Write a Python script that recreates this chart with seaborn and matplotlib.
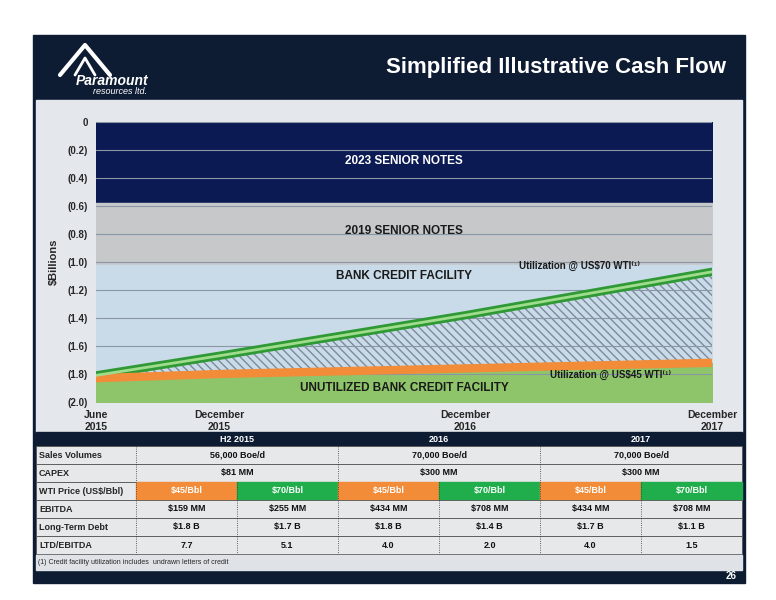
import numpy as np
import pandas as pd
import matplotlib
matplotlib.use("Agg")
import matplotlib.pyplot as plt
import seaborn as sns
from matplotlib.patches import Rectangle

# Chart data
MONTHS = [0, 6, 18, 30]
X_LABELS = ["June\n2015", "December\n2015", "December\n2016", "December\n2017"]
UTIL_70 = [-1.81, -1.67, -1.38, -1.07]
UTIL_45 = [-1.83, -1.80, -1.76, -1.72]
BANDS = [  # (top, bottom, colour, label, label y)
    (0.0, -0.57, "#0c1a54", "2023 SENIOR NOTES", -0.28),
    (-0.58, -1.02, "#c6c8ca", "2019 SENIOR NOTES", -0.78),
    (-1.02, -2.0, "#c9dbe8", "BANK CREDIT FACILITY", -1.1),
]

# Table data
PERIODS = ["H2 2015", "2016", "2017"]
SALES = ["56,000 Boe/d", "70,000 Boe/d", "70,000 Boe/d"]
CAPEX = ["$81 MM", "$300 MM", "$300 MM"]
WTI = ["$45/Bbl", "$70/Bbl"] * 3
EBITDA = ["$159 MM", "$255 MM", "$434 MM", "$708 MM", "$434 MM", "$708 MM"]
LTD = ["$1.8 B", "$1.7 B", "$1.8 B", "$1.4 B", "$1.7 B", "$1.1 B"]
LTD_EBITDA = ["7.7", "5.1", "4.0", "2.0", "4.0", "1.5"]

W, H = 776, 600
NAVY = "#0e1c33"
ORANGE = "#f28c38"
GREEN = "#1fae4b"

sns.set_style("white")
plt.rcParams["font.family"] = ["Liberation Sans", "DejaVu Sans"]

fig = plt.figure(figsize=(7.76, 6.0), dpi=100)
bg = fig.add_axes([0, 0, 1, 1])
bg.set_xlim(0, W)
bg.set_ylim(H, 0)
bg.axis("off")

# slide frame
bg.add_patch(Rectangle((33, 35), 712, 548, color=NAVY))
bg.add_patch(Rectangle((36, 100), 706, 332, color="#e4e8ec"))
bg.text(726, 68, "Simplified Illustrative Cash Flow", color="white", fontsize=16,
        fontweight="bold", ha="right", va="center")
bg.text(112, 81, "Paramount", color="white", fontsize=10, fontweight="bold",
        style="italic", ha="center", va="center")
bg.text(120, 92, "resources ltd.", color="white", fontsize=6.5, style="italic",
        ha="center", va="center")
bg.plot([60, 85, 110], [75, 45, 75], color="white", lw=3)
bg.plot([75, 85, 95], [75, 58, 75], color="white", lw=2)

# chart axes
ax = fig.add_axes([96 / W, 1 - 402 / H, 616 / W, 280 / H])
for top, bot, col, lab, ly in BANDS:
    ax.fill_between([0, 30], top, bot, color=col, zorder=0)
    ax.text(15, ly, lab, ha="center", va="center", fontsize=8.5, fontweight="bold",
            color="white" if col == "#0c1a54" else "#1a1a1a", zorder=5)
ax.fill_between(MONTHS, UTIL_45, -2.0, color="#8fc56a", zorder=1)
ax.fill_between(MONTHS, UTIL_45, UTIL_70, facecolor="none", edgecolor="#7d8a99",
                hatch="\\\\\\\\", lw=0, zorder=1)
ax.text(15, -1.9, "UNUTILIZED BANK CREDIT FACILITY", ha="center", va="center",
        fontsize=8.5, fontweight="bold", color="#1a1a1a", zorder=5)

df = pd.DataFrame({"month": MONTHS * 2, "value": UTIL_70 + UTIL_45,
                   "case": ["70"] * 4 + ["45"] * 4})
sns.lineplot(data=df, x="month", y="value", hue="case",
             palette={"70": "#2f9a35", "45": ORANGE}, linewidth=6, legend=False,
             ax=ax, zorder=4)
ax.plot(MONTHS, UTIL_70, color="#9fdc8c", lw=2, zorder=4)
ax.text(26.5, -1.065, "Utilization @ US$70 WTI\u207d\u00b9\u207e", ha="right", va="bottom",
        fontsize=7, fontweight="bold", color="#1a1a1a", zorder=5)
ax.text(28, -1.77, "Utilization @ US$45 WTI\u207d\u00b9\u207e", ha="right", va="top",
        fontsize=7, fontweight="bold", color="#1a1a1a", zorder=5)

ax.set_xlim(0, 30)
ax.set_ylim(-2.0, 0)
ax.set_yticks(np.arange(0, -2.01, -0.2))
ax.set_yticklabels(["0"] + [f"({abs(v):.1f})" for v in np.arange(-0.2, -2.01, -0.2)],
                   fontsize=7, fontweight="bold")
ax.grid(axis="y", color="#8a96a6", lw=0.8, zorder=2)
ax.set_axisbelow(False)
ax.set_xticks(MONTHS)
ax.set_xticklabels(X_LABELS, fontsize=7.5, fontweight="bold")
ax.set_xlabel("")
ax.set_ylabel("$Billions", fontsize=8, fontweight="bold", labelpad=6)
for s in ax.spines.values():
    s.set_visible(False)
ax.tick_params(length=0, pad=6)

# table
x0, x1 = 36, 742
label_w = 100
col_w = (x1 - x0 - label_w) / 6
y = 432
bg.add_patch(Rectangle((x0, y), x1 - x0, 14, color=NAVY))
for i, p in enumerate(PERIODS):
    bg.text(x0 + label_w + col_w * (2 * i + 1), y + 7, p, color="white", fontsize=6.5,
            fontweight="bold", ha="center", va="center")
y += 14
rows = [("Sales Volumes", SALES, False), ("CAPEX", CAPEX, False),
        ("WTI Price (US$/Bbl)", WTI, True), ("EBITDA", EBITDA, False),
        ("Long-Term Debt", LTD, False), ("LTD/EBITDA", LTD_EBITDA, False)]
rh = 18
for name, vals, coloured in rows:
    bg.add_patch(Rectangle((x0, y), x1 - x0, rh, facecolor="#e6e8ea",
                           edgecolor="#555555", lw=0.6))
    bg.text(x0 + 3, y + rh / 2, name, fontsize=6.5, fontweight="bold",
            va="center", ha="left")
    span = 6 // len(vals)
    for j, v in enumerate(vals):
        cx = x0 + label_w + col_w * span * j
        if coloured:
            fc = ORANGE if j % 2 == 0 else GREEN
            bg.add_patch(Rectangle((cx, y), col_w * span, rh, color=fc))
        bg.plot([cx, cx], [y, y + rh], color="#333333", lw=0.6, ls=":")
        bg.text(cx + col_w * span / 2, y + rh / 2, v, fontsize=6.5, fontweight="bold",
                ha="center", va="center", color="white" if coloured else "#111111")
    y += rh
bg.add_patch(Rectangle((x0, y + 1), x1 - x0, 15, color="#dfe3e8"))
bg.text(x0 + 2, y + 8, "(1) Credit facility utilization includes  undrawn letters of credit",
        fontsize=5, va="center")
bg.text(737, 576, "26", color="white", fontsize=7, fontweight="bold", ha="right",
        va="center")

fig.savefig("out.png", dpi=100, facecolor="white")
